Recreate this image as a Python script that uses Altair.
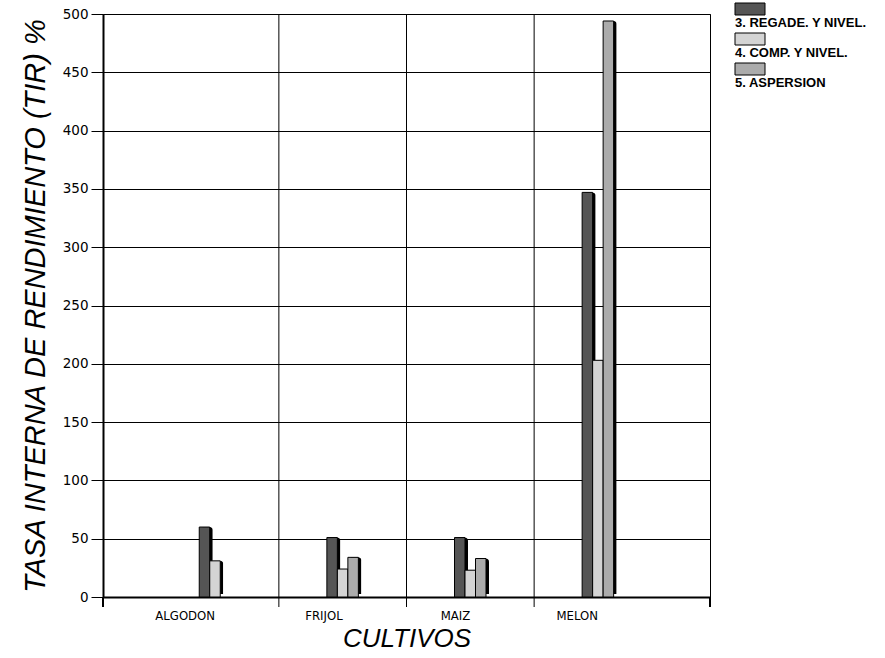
import altair as alt
import pandas as pd

# Crops (x categories) and irrigation systems (series)
cultivos = ["ALGODON", "FRIJOL", "MAIZ", "MELON"]
series = ["3. REGADE. Y NIVEL.", "4. COMP. Y NIVEL.", "5. ASPERSION"]

# Internal rate of return (%) per crop for each system
tir_regadera = [60, 51, 51, 347]
tir_compuertas = [31, 24, 23, 203]
tir_aspersion = [None, 34, 33, 494]

y_ticks = [0, 50, 100, 150, 200, 250, 300, 350, 400, 450, 500]
fills = ["#555555", "#d4d4d4", "#ababab"]

rows = []
for s, vals in zip(series, [tir_regadera, tir_compuertas, tir_aspersion]):
    for c, v in zip(cultivos, vals):
        if v is not None:
            rows.append({"cultivo": c, "serie": s, "tir": v})
df = pd.DataFrame(rows)

W, H = 607, 583

x_scale = alt.Scale(domain=cultivos, paddingInner=0, paddingOuter=0.378)
# the three bars of a group sit together in the middle of each crop band
off_scale = alt.Scale(domain=series, range=[48, 79.5], paddingInner=0, paddingOuter=0)
# same bars nudged right for the dark side face
off_scale_side = alt.Scale(domain=series, range=[51, 82.5], paddingInner=0, paddingOuter=0)
y_scale = alt.Scale(domain=[0, 500], nice=False)
color_scale = alt.Scale(domain=series, range=fills)

x_axis = alt.Axis(
    title="CULTIVOS", titleFont="Liberation Sans", titleFontStyle="italic",
    titleFontWeight="normal", titleFontSize=26, titleColor="black", titlePadding=3,
    labelAngle=0, labelFont="DejaVu Sans Condensed, Liberation Sans Narrow, Liberation Sans",
    labelFontSize=13, labelColor="black",
    labelPadding=18, ticks=False, grid=False,
    domainColor="black", domainWidth=2,
)
y_axis = alt.Axis(
    title="TASA INTERNA DE RENDIMIENTO (TIR) %", titleFont="Liberation Sans",
    titleFontStyle="italic", titleFontWeight="normal", titleFontSize=29,
    titleColor="black", titlePadding=12,
    values=y_ticks, labelFont="DejaVu Sans", labelFontSize=13.5, labelColor="black",
    labelPadding=3, tickSize=12, tickColor="black", tickWidth=1,
    grid=True, gridColor="black", gridOpacity=1, gridWidth=1,
    domainColor="black", domainWidth=2,
)

enc_x = alt.X("cultivo:N", scale=x_scale, axis=x_axis)
enc_y = alt.Y("tir:Q", scale=y_scale, axis=y_axis)

# dark side/top of each bar gives the 3-D look
side = alt.Chart(df).mark_bar(color="black", yOffset=-3, cornerRadiusTopRight=3).encode(
    x=enc_x,
    xOffset=alt.XOffset("serie:N", scale=off_scale_side),
    y=enc_y,
)
front = alt.Chart(df).mark_bar(stroke="black", strokeWidth=1).encode(
    x=enc_x,
    xOffset=alt.XOffset("serie:N", scale=off_scale),
    y=enc_y,
    color=alt.Color("serie:N", scale=color_scale, legend=None),
)

# vertical separators between crops, extending below the axis as ticks
sep = alt.Chart(pd.DataFrame({"cultivo": cultivos[1:]})).mark_rule(
    color="black", strokeWidth=1
).encode(
    x=alt.X("cultivo:N", scale=x_scale, bandPosition=0),
    y=alt.value(0),
    y2=alt.value(H + 10),
)
# short ticks under both ends of the x axis
end_left = alt.Chart(df).mark_rule(color="black", strokeWidth=1).encode(
    x=alt.value(0), y=alt.value(H), y2=alt.value(H + 10)
)
end_right = alt.Chart(df).mark_rule(color="black", strokeWidth=1).encode(
    x=alt.value(W), y=alt.value(H), y2=alt.value(H + 10)
)

bars = alt.layer(sep, end_left, end_right, side, front).resolve_scale(xOffset="independent")

# legend: swatch with its label underneath
leg_df = pd.DataFrame({"serie": series})
leg_y = alt.Y(
    "serie:N",
    scale=alt.Scale(domain=series, range=[-11, 61], paddingInner=0.6, paddingOuter=0),
    axis=None,
)
leg_rect = alt.Chart(leg_df).mark_rect(stroke="black", strokeWidth=1).encode(
    x=alt.value(632), x2=alt.value(662), y=leg_y,
    color=alt.Color("serie:N", scale=color_scale, legend=None),
)
leg_text = alt.Chart(leg_df).mark_text(
    align="left", baseline="top", dy=8, font="Liberation Sans",
    fontWeight="bold", fontSize=13, color="black",
).encode(x=alt.value(632), y=leg_y, text="serie:N")
legend = alt.layer(leg_rect, leg_text)

chart = alt.layer(bars, legend).resolve_scale(y="independent").properties(
    width=W, height=H,
    padding={"left": 103, "top": 14, "right": 175, "bottom": 61},
    autosize=alt.AutoSizeParams(type="none"),
    background="white",
).configure_view(stroke="black", strokeWidth=1)

chart.save("out.html", embed_options={"renderer": "svg", "actions": False})
